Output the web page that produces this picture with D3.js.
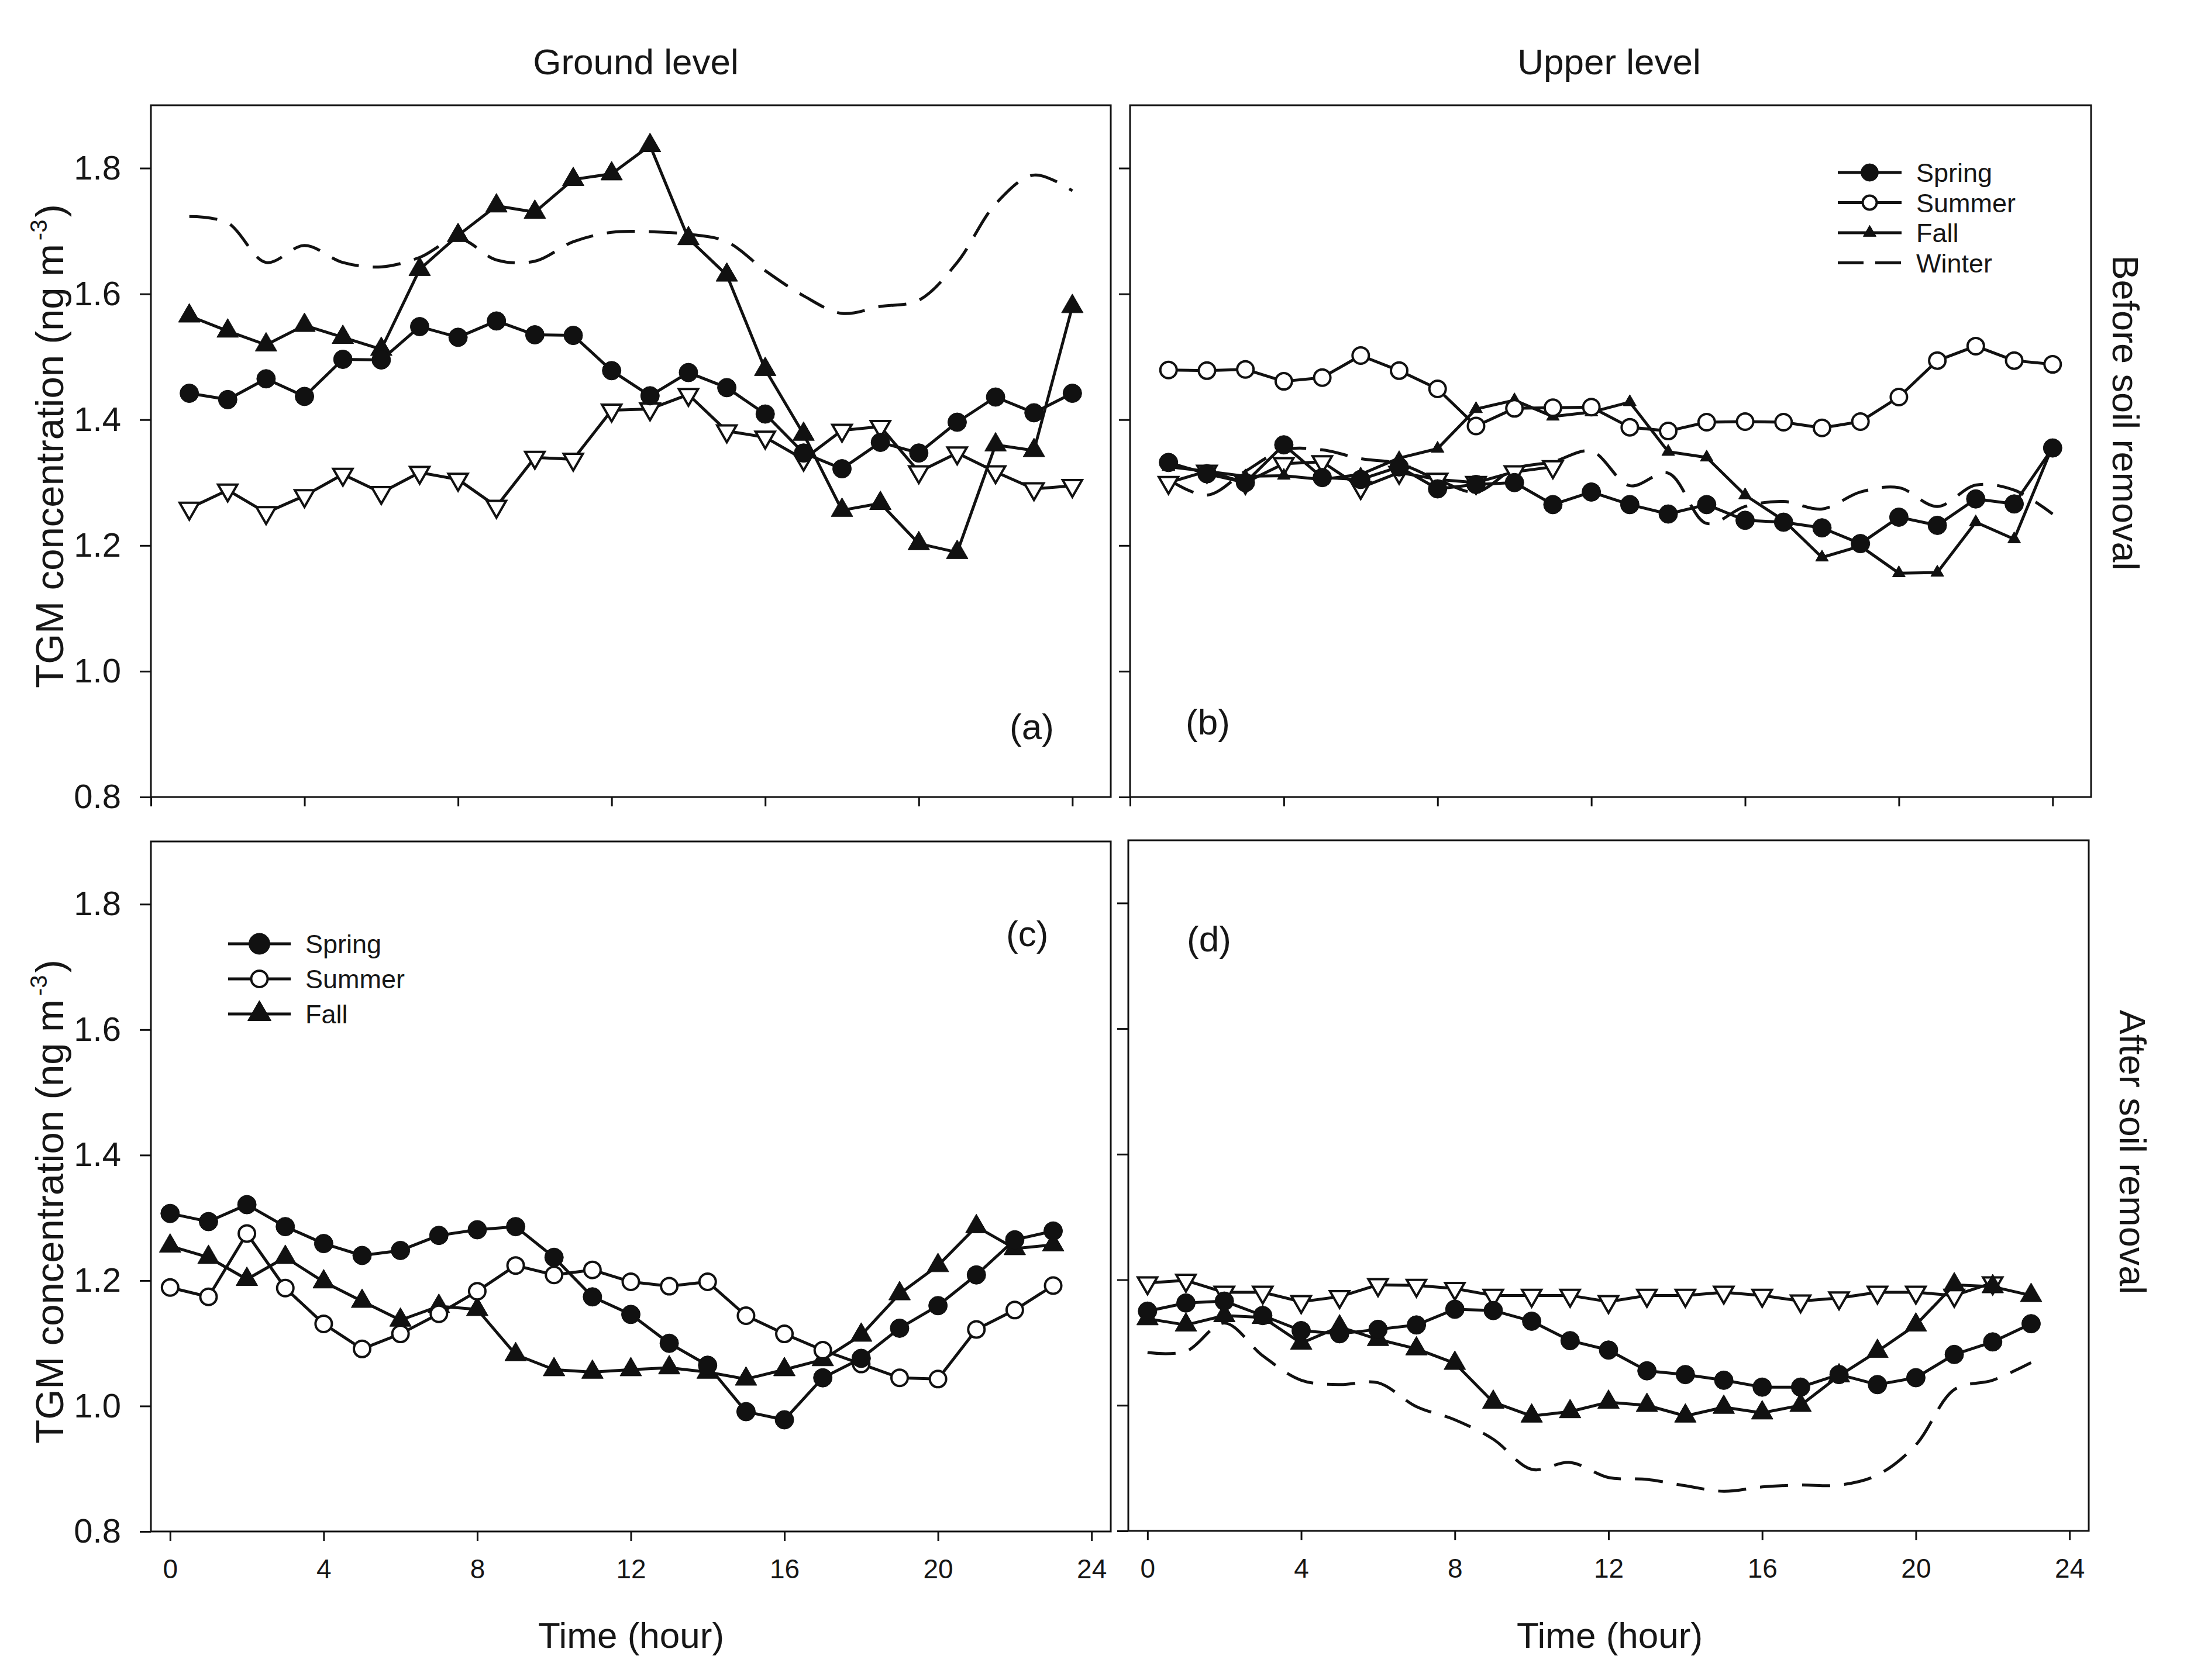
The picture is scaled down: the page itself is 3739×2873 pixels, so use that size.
<!DOCTYPE html>
<html>
<head>
<meta charset="utf-8">
<script src="https://cdn.jsdelivr.net/npm/d3@7"></script>
<style>
  html, body { margin: 0; padding: 0; background: #fff; }
  svg { display: block; }
  text { font-family: "Liberation Sans", Arial, Helvetica, sans-serif; fill: #161616; }
  .xt text { font-family: "Liberation Sans Narrow", "Arial Narrow", "Liberation Sans", Arial, sans-serif; }
</style>
</head>
<body>
<svg id="chart"></svg>
<script>
// hours of the day; before-removal panels are logged 1..24, after-removal 0..23
var hoursBefore = [1, 2, 3, 4, 5, 6, 7, 8, 9, 10, 11, 12, 13, 14, 15, 16, 17, 18, 19, 20, 21, 22, 23, 24]
var hoursBeforeTri = [1, 2, 3, 4, 5, 6, 7, 8, 9, 10, 11]
var hoursAfter = [0, 1, 2, 3, 4, 5, 6, 7, 8, 9, 10, 11, 12, 13, 14, 15, 16, 17, 18, 19, 20, 21, 22, 23]
var hoursAfterTri = [0, 1, 2, 3, 4, 5, 6, 7, 8, 9, 10, 11, 12, 13, 14, 15, 16, 17, 18, 19, 20, 21, 22]

var xTicks = [0, 4, 8, 12, 16, 20, 24]
var yTicks = [0.8, 1.0, 1.2, 1.4, 1.6, 1.8]
var seasonNames = ['Spring', 'Summer', 'Fall', 'Winter']

// (a) ground level, before soil removal
var aSpring = [1.442, 1.432, 1.465, 1.437, 1.496, 1.495, 1.548, 1.531, 1.557, 1.535, 1.534, 1.478, 1.438, 1.475, 1.451, 1.409, 1.347, 1.322, 1.364, 1.347, 1.396, 1.436, 1.411, 1.442]
var aFall = [1.565, 1.541, 1.519, 1.550, 1.531, 1.512, 1.639, 1.693, 1.740, 1.730, 1.782, 1.791, 1.836, 1.688, 1.630, 1.480, 1.377, 1.256, 1.267, 1.203, 1.189, 1.360, 1.351, 1.580]
var aOpenTri = [1.259, 1.288, 1.252, 1.279, 1.313, 1.284, 1.316, 1.305, 1.262, 1.340, 1.337, 1.415, 1.417, 1.440, 1.382, 1.372, 1.337, 1.383, 1.389, 1.317, 1.347, 1.317, 1.290, 1.295]
var aWinter = [1.723, 1.713, 1.650, 1.677, 1.650, 1.643, 1.658, 1.688, 1.654, 1.652, 1.683, 1.698, 1.699, 1.695, 1.683, 1.637, 1.597, 1.569, 1.580, 1.590, 1.650, 1.743, 1.789, 1.764]

// (b) upper level, before soil removal
var bSpring = [1.332, 1.314, 1.300, 1.360, 1.308, 1.305, 1.325, 1.290, 1.297, 1.300, 1.265, 1.285, 1.265, 1.250, 1.265, 1.240, 1.237, 1.228, 1.203, 1.245, 1.232, 1.274, 1.266, 1.355]
var bSummer = [1.479, 1.478, 1.480, 1.461, 1.467, 1.502, 1.478, 1.449, 1.390, 1.418, 1.419, 1.420, 1.388, 1.382, 1.396, 1.397, 1.396, 1.387, 1.397, 1.436, 1.494, 1.517, 1.494, 1.488]
var bFall = [1.325, 1.318, 1.310, 1.311, 1.305, 1.313, 1.339, 1.354, 1.417, 1.431, 1.405, 1.412, 1.428, 1.349, 1.340, 1.280, 1.240, 1.181, 1.199, 1.156, 1.157, 1.237, 1.210, 1.358]
var bOpenTri = [1.300, 1.318, 1.300, 1.330, 1.333, 1.292, 1.316, 1.305, 1.300, 1.317, 1.325]
var bWinter = [1.305, 1.280, 1.318, 1.352, 1.352, 1.338, 1.330, 1.305, 1.285, 1.322, 1.333, 1.350, 1.295, 1.315, 1.235, 1.262, 1.270, 1.258, 1.285, 1.292, 1.262, 1.296, 1.288, 1.250]

// (c) ground level, after soil removal
var cSpring = [1.307, 1.294, 1.321, 1.286, 1.259, 1.240, 1.248, 1.272, 1.281, 1.286, 1.237, 1.174, 1.146, 1.100, 1.065, 0.991, 0.978, 1.045, 1.076, 1.124, 1.160, 1.209, 1.265, 1.279]
var cSummer = [1.189, 1.174, 1.275, 1.188, 1.131, 1.091, 1.115, 1.147, 1.183, 1.224, 1.209, 1.217, 1.198, 1.191, 1.198, 1.144, 1.115, 1.089, 1.067, 1.045, 1.043, 1.122, 1.153, 1.192]
var cFall = [1.255, 1.237, 1.202, 1.237, 1.198, 1.167, 1.137, 1.159, 1.154, 1.082, 1.058, 1.054, 1.058, 1.061, 1.054, 1.043, 1.058, 1.074, 1.113, 1.179, 1.224, 1.286, 1.251, 1.257]

// (d) upper level, after soil removal
var dOpenTri = [1.195, 1.199, 1.180, 1.180, 1.165, 1.173, 1.192, 1.191, 1.186, 1.175, 1.175, 1.175, 1.165, 1.175, 1.175, 1.180, 1.175, 1.166, 1.171, 1.180, 1.180, 1.175, 1.195]
var dSpring = [1.150, 1.163, 1.166, 1.143, 1.119, 1.114, 1.121, 1.128, 1.153, 1.151, 1.134, 1.103, 1.088, 1.055, 1.049, 1.040, 1.029, 1.029, 1.049, 1.033, 1.044, 1.081, 1.101, 1.130]
var dFall = [1.138, 1.128, 1.143, 1.140, 1.099, 1.125, 1.105, 1.090, 1.067, 1.005, 0.983, 0.990, 1.005, 1.000, 0.983, 0.997, 0.988, 1.000, 1.047, 1.086, 1.128, 1.192, 1.189, 1.175]
var dWinter = [1.084, 1.086, 1.131, 1.079, 1.040, 1.033, 1.036, 0.998, 0.977, 0.946, 0.898, 0.909, 0.885, 0.882, 0.872, 0.863, 0.870, 0.873, 0.873, 0.889, 0.937, 1.025, 1.040, 1.068]

var W = 3739, H = 2873
var ink = '#111'

var styles = {
  spring:    {shape: 'circle', r: 16, fill: ink, sw: 1},
  summer:    {shape: 'circle', r: 14, fill: '#fff', sw: 4},
  fall:      {shape: 'tri', side: 37, fill: ink, sw: 1},
  fallSmall: {shape: 'tri', side: 22, fill: ink, sw: 1},
  openTri:   {shape: 'triDown', side: 33, fill: '#fff', sw: 4},
  winter:    {shape: null, dash: '48,24'},
}

var panels = [
  {left: 258, right: 1899, top: 180, bottom: 1363, xDomain: [0, 25], yLabels: true, xLabels: false,
   tag: '(a)', tagPos: [1726, 1264],
   series: [
     {kind: 'winter', hours: hoursBefore, values: aWinter},
     {kind: 'openTri', hours: hoursBefore, values: aOpenTri},
     {kind: 'fall', hours: hoursBefore, values: aFall},
     {kind: 'spring', hours: hoursBefore, values: aSpring},
   ]},
  {left: 1932, right: 3575, top: 180, bottom: 1363, xDomain: [0, 25], yLabels: false, xLabels: false,
   tag: '(b)', tagPos: [2027, 1256],
   series: [
     {kind: 'winter', hours: hoursBefore, values: bWinter},
     {kind: 'openTri', hours: hoursBeforeTri, values: bOpenTri},
     {kind: 'fallSmall', hours: hoursBefore, values: bFall},
     {kind: 'summer', hours: hoursBefore, values: bSummer},
     {kind: 'spring', hours: hoursBefore, values: bSpring},
   ]},
  {left: 258, right: 1899, top: 1439, bottom: 2619, xDomain: [-0.5, 24.5], yLabels: true, xLabels: true,
   tag: '(c)', tagPos: [1720, 1618],
   series: [
     {kind: 'fall', hours: hoursAfter, values: cFall},
     {kind: 'summer', hours: hoursAfter, values: cSummer},
     {kind: 'spring', hours: hoursAfter, values: cSpring},
   ]},
  {left: 1929, right: 3571, top: 1437, bottom: 2618, xDomain: [-0.5, 24.5], yLabels: false, xLabels: true,
   tag: '(d)', tagPos: [2029, 1627],
   series: [
     {kind: 'winter', hours: hoursAfter, values: dWinter},
     {kind: 'openTri', hours: hoursAfterTri, values: dOpenTri},
     {kind: 'fall', hours: hoursAfter, values: dFall},
     {kind: 'spring', hours: hoursAfter, values: dSpring},
   ]},
]

var svg = d3.select('#chart').attr('width', W).attr('height', H)
svg.append('rect').attr('width', W).attr('height', H).attr('fill', '#fff')

function triArea(side){ return Math.sqrt(3) / 4 * side * side }

function addMarker(sel, st){
  if (st.shape == 'circle'){
    sel.append('circle').attr('r', st.r)
      .attr('fill', st.fill).attr('stroke', ink).attr('stroke-width', st.sw)
  } else if (st.shape){
    sel.append('path')
      .attr('d', d3.symbol(d3.symbolTriangle, triArea(st.side))())
      .attr('transform', st.shape == 'triDown' ? 'rotate(180)' : null)
      .attr('fill', st.fill).attr('stroke', ink).attr('stroke-width', st.sw)
      .attr('stroke-linejoin', 'miter')
  }
}

panels.forEach(function(p){
  var x = d3.scaleLinear().domain(p.xDomain).range([p.left, p.right])
  var y = d3.scaleLinear().domain([0.8, 1.9]).range([p.bottom, p.top])
  var g = svg.append('g')

  // axes: ticks outside, frame drawn separately
  var ya = g.append('g').attr('transform', `translate(${p.left},0)`)
    .call(d3.axisLeft(y).tickValues(yTicks).tickSize(19).tickSizeOuter(0).tickPadding(32)
      .tickFormat(p.yLabels ? d3.format('.1f') : ''))
  var xa = g.append('g').attr('class', 'xt').attr('transform', `translate(0,${p.bottom})`)
    .call(d3.axisBottom(x).tickValues(xTicks).tickSize(16).tickSizeOuter(0).tickPadding(31)
      .tickFormat(p.xLabels ? d3.format('d') : ''))
  ;[ya, xa].forEach(function(a){
    a.select('.domain').remove()
    a.selectAll('line').attr('stroke', ink).attr('stroke-width', 3)
  })
  ya.selectAll('text').attr('font-size', 58)
  xa.selectAll('text').attr('font-size', 46)

  g.append('rect')
    .attr('x', p.left).attr('y', p.top)
    .attr('width', p.right - p.left).attr('height', p.bottom - p.top)
    .attr('fill', 'none').attr('stroke', ink).attr('stroke-width', 3)

  p.series.forEach(function(s){
    var st = styles[s.kind]
    var pts = s.values.map((v, i) => ({h: s.hours[i], v: v}))
    var line = d3.line().x(d => x(d.h)).y(d => y(d.v))
      .curve(s.kind == 'winter' ? d3.curveCatmullRom.alpha(0.5) : d3.curveLinear)
    g.append('path').datum(pts)
      .attr('d', line)
      .attr('fill', 'none').attr('stroke', ink).attr('stroke-width', 5)
      .attr('stroke-linejoin', 'round')
      .attr('stroke-dasharray', st.dash || null)
    if (!st.shape) return
    g.selectAll(null).data(pts).join('g')
      .attr('transform', d => `translate(${x(d.h)},${y(d.v)})`)
      .each(function(){ addMarker(d3.select(this), st) })
  })

  g.append('text').attr('x', p.tagPos[0]).attr('y', p.tagPos[1])
    .attr('font-size', 62).text(p.tag)
})

// legends
function legend(cfg){
  var g = svg.append('g')
  cfg.kinds.forEach(function(kind, i){
    var st = Object.assign({}, styles[kind], cfg.sizes[kind] || {})
    var ry = cfg.top + i * cfg.step
    g.append('line')
      .attr('x1', cfg.x0).attr('x2', cfg.x1).attr('y1', ry).attr('y2', ry)
      .attr('stroke', ink).attr('stroke-width', 5)
      .attr('stroke-dasharray', kind == 'winter' ? '44,20' : null)
    var m = g.append('g').attr('transform', `translate(${(cfg.x0 + cfg.x1) / 2},${ry})`)
    addMarker(m, st)
    g.append('text').attr('x', cfg.tx).attr('y', ry + 16)
      .attr('font-size', 45).text(seasonNames[i])
  })
}
legend({kinds: ['spring', 'summer', 'fallSmall', 'winter'], x0: 3142, x1: 3251, tx: 3276, top: 295, step: 51.5,
        sizes: {spring: {r: 15}, summer: {r: 12}}})
legend({kinds: ['spring', 'summer', 'fall'], x0: 390, x1: 497, tx: 522, top: 1614, step: 60,
        sizes: {spring: {r: 18}, summer: {r: 14}, fall: {side: 40}}})

// column titles
svg.append('text').attr('x', 1087).attr('y', 127).attr('text-anchor', 'middle')
  .attr('font-size', 62).text('Ground level')
svg.append('text').attr('x', 2751).attr('y', 127).attr('text-anchor', 'middle')
  .attr('font-size', 62).text('Upper level')

// x titles
;[1079, 2752].forEach(function(cx){
  svg.append('text').attr('x', cx).attr('y', 2818).attr('text-anchor', 'middle')
    .attr('font-size', 62).text('Time (hour)')
})

// y titles with superscript
;[763, 2055].forEach(function(cy){
  var t = svg.append('text')
    .attr('transform', `translate(108,${cy}) rotate(-90)`)
    .attr('text-anchor', 'middle').attr('font-size', 67)
  t.append('tspan').text('TGM concentration (ng m')
  t.append('tspan').attr('dy', -28).attr('dx', 6).attr('font-size', 40).text('-3')
  t.append('tspan').attr('dy', 28).attr('dx', 4).text(')')
})

// row titles on the right
svg.append('text').attr('transform', 'translate(3612,706) rotate(90)')
  .attr('text-anchor', 'middle').attr('font-size', 63).text('Before soil removal')
svg.append('text').attr('transform', 'translate(3624,1970) rotate(90)')
  .attr('text-anchor', 'middle').attr('font-size', 63).text('After soil removal')
</script>
</body>
</html>
